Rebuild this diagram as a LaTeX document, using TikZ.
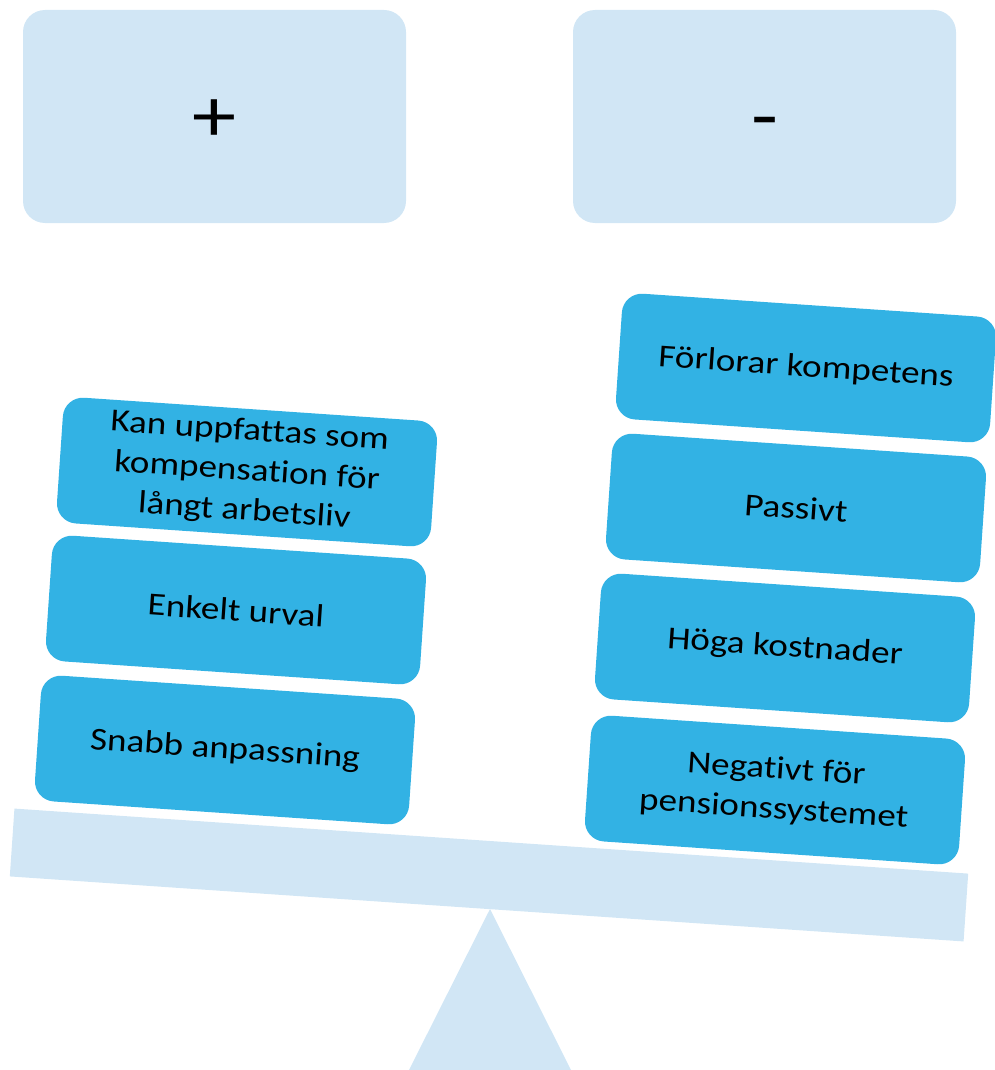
\documentclass[tikz,border=0pt]{standalone}
\usepackage{fontspec}
\setmainfont{Carlito}[FakeStretch=1.16,Ligatures=NoCommon]
\definecolor{lightb}{RGB}{209,230,245}
\definecolor{boxb}{RGB}{50,178,228}
\begin{document}
\begin{tikzpicture}[x=1pt,y=-1pt,
  topbox/.style={fill=lightb, rounded corners=22pt, minimum width=383pt, minimum height=213pt, inner sep=0pt, text height=50pt, text depth=0pt, font=\fontsize{76}{80}\selectfont},
  itembox/.style={fill=boxb, rounded corners=20pt, minimum width=375pt, minimum height=126pt, rotate=-3.9, align=center, inner sep=0pt, font=\fontsize{32}{40}\selectfont},
  beamshape/.style={fill=lightb, minimum width=956pt, minimum height=68pt, rotate=-3.9, inner sep=0pt}]
\useasboundingbox (0,0) rectangle (995,1070);
\clip (0,0) rectangle (995,1070);
\node[topbox] (plus) at (214.5,116.5) {+};
\node[topbox] (minus) at (764.5,116.5) {-};
\coordinate (apex) at (490,909);
\fill[lightb] (apex) -- (409,1070) -- (571,1070) -- cycle;
\node[beamshape] (beam) at (489,875) {};
\node[itembox] (p1) at (247,472) {Kan uppfattas som\\kompensation för\\långt arbetsliv};
\node[itembox] (p2) at (236,610) {Enkelt urval};
\node[itembox] (p3) at (225,750) {Snabb anpassning};
\node[itembox] (m1) at (806,368) {Förlorar kompetens};
\node[itembox] (m2) at (796,508) {Passivt};
\node[itembox] (m3) at (785,648) {Höga kostnader};
\node[itembox] (m4) at (775,790) {Negativt för\\pensionssystemet};
\end{tikzpicture}
\end{document}
